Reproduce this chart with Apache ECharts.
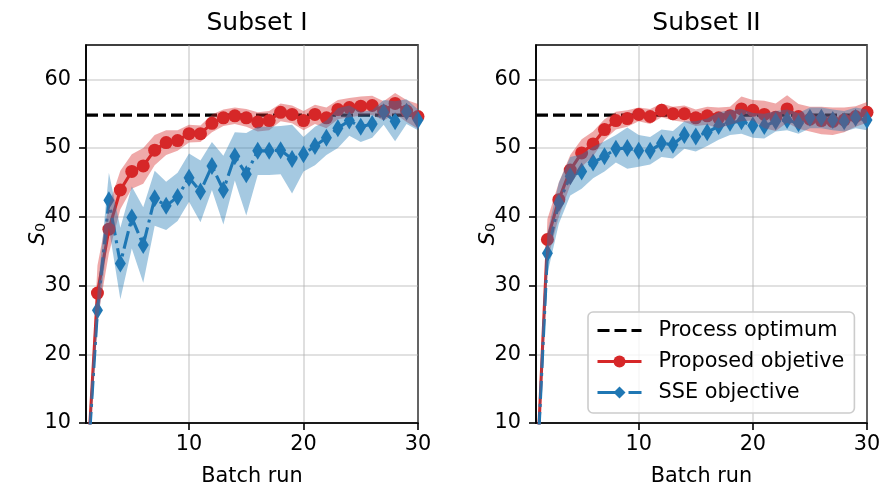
<!DOCTYPE html>
<html>
<head>
<meta charset="utf-8">
<script src="https://cdn.jsdelivr.net/npm/echarts@6/dist/echarts.min.js"></script>
<style>html,body{margin:0;padding:0;background:#fff;}#c{width:883px;height:489px;}</style>
</head>
<body>
<div id="c"></div>
<script>
// ---- data ----
const batch = [1,2,3,4,5,6,7,8,9,10,11,12,13,14,15,16,17,18,19,20,21,22,23,24,25,26,27,28,29,30];
const processOptimum = 54.8;

const s1Proposed   = [0,28.9,38.2,43.9,46.6,47.4,49.7,50.8,51.1,52.1,52.1,53.6,54.4,54.7,54.4,53.8,54.0,55.2,54.9,54.0,54.9,54.4,55.6,55.9,56.1,56.2,55.4,56.5,55.4,54.6];
const s1ProposedSd = [0,4.0,3.5,2.8,2.5,2.6,2.2,1.8,1.5,1.3,1.2,1.3,1.2,1.2,1.3,1.4,1.4,1.3,1.3,1.4,1.4,1.5,1.4,1.4,1.4,1.4,1.4,1.5,1.6,1.8];
const s1Sse        = [0,26.4,42.4,33.2,39.9,35.9,42.7,41.6,42.9,45.7,43.7,47.4,43.9,48.8,46.2,49.6,49.6,49.7,48.4,49.1,50.3,51.5,52.9,54.0,53.1,53.5,55.2,53.9,55.3,54.1];
const s1SseSd      = [0,2.5,4.0,5.2,4.5,5.5,4.0,3.5,3.5,3.5,4.5,3.5,5.0,3.5,6.0,3.5,3.5,3.5,5.0,2.5,2.8,2.5,2.9,2.2,2.2,2.0,1.8,2.9,1.8,1.5];

const s2Proposed   = [0,36.7,42.5,46.8,49.3,50.6,52.7,54.0,54.3,54.9,54.6,55.5,55.0,55.0,54.4,54.7,54.4,54.7,55.7,55.5,54.9,54.5,55.7,54.6,54.2,54.0,53.9,54.1,54.6,55.2];
const s2ProposedSd = [0,3.0,2.5,2.2,2.0,1.8,1.5,1.3,1.2,1.0,1.1,1.0,1.0,1.2,1.2,1.3,1.5,1.3,1.8,1.5,2.0,2.0,2.0,1.8,1.8,2.0,2.0,1.8,1.5,1.5];
const s2Sse        = [0,34.7,42.0,45.9,46.6,47.9,48.8,49.9,50.0,49.6,49.6,50.7,50.5,51.9,51.7,52.3,53.2,53.7,53.9,53.3,53.2,53.9,54.1,53.6,54.4,54.4,54.1,53.9,54.4,54.1];
const s2SseSd      = [0,3.0,3.0,2.8,2.5,2.3,2.2,2.0,3.0,2.3,2.0,2.0,2.0,2.0,2.2,2.0,2.0,1.8,1.8,1.8,1.8,1.5,1.5,1.5,1.5,1.5,1.5,1.5,1.5,1.5];

const xTicks = [10,20,30];
const yTicks = [10,20,30,40,50,60];
const titles = ['Subset I','Subset II'];
const seriesNames = ['Process optimum','Proposed objetive','SSE objective'];

// ---- styles ----
const FONT = 'DejaVu Sans';
const FS = 20.8;
const RED = '#d62728', BLUE = '#1f77b4';
const RED_BAND = 'rgba(214,39,40,0.4)', BLUE_BAND = 'rgba(31,119,180,0.4)';
const grids = [
  {left: 86, top: 45, width: 332, height: 378},
  {left: 536, top: 45, width: 331, height: 378}
];

function pairs(ys){ return batch.map((x,i)=>[x, ys[i]]); }
function bandData(ys, sd){ return batch.map((x,i)=>[x, ys[i]-sd[i], ys[i]+sd[i]]); }

function bandSeries(gi, ys, sd, fill){
  const data = bandData(ys, sd);
  return {
    type: 'custom', xAxisIndex: gi, yAxisIndex: gi, silent: true, clip: true, z: 3,
    data: data,
    encode: {x: 0, y: [1,2]},
    renderItem: function(params, api){
      if (params.dataIndex !== 0) return null;
      const pts = [];
      for (let i = 0; i < data.length; i++) pts.push(api.coord([data[i][0], data[i][2]]));
      for (let i = data.length - 1; i >= 0; i--) pts.push(api.coord([data[i][0], data[i][1]]));
      return {type: 'polygon', shape: {points: pts}, style: {fill: fill, stroke: null}};
    }
  };
}

const xAxes = [], yAxes = [], series = [], titleCmp = [];
const sets = [
  [s1Proposed, s1ProposedSd, s1Sse, s1SseSd],
  [s2Proposed, s2ProposedSd, s2Sse, s2SseSd]
];
for (let gi = 0; gi < 2; gi++){
  const g = grids[gi];
  titleCmp.push({
    text: titles[gi], left: g.left + g.width/2, top: 6, textAlign: 'center',
    textStyle: {fontFamily: FONT, fontSize: 25, fontWeight: 'normal', color: '#000'}
  });
  xAxes.push({
    type: 'value', gridIndex: gi, min: 1, max: 30,
    name: 'Batch run', nameLocation: 'middle', nameGap: 43, nameMoveOverlap: false,
    nameTextStyle: {fontFamily: FONT, fontSize: FS, color: '#000'},
    axisLine: {show: true, onZero: false, lineStyle: {color: '#000', width: 1.6}},
    axisTick: {show: true, length: 7, lineStyle: {color: '#000', width: 1.6}, customValues: xTicks},
    axisLabel: {fontFamily: FONT, fontSize: FS, color: '#000', margin: 11, customValues: xTicks},
    splitLine: {show: true, lineStyle: {color: '#b0b0b0', opacity: 0.5, width: 1.6}}
  });
  yAxes.push({
    type: 'value', gridIndex: gi, min: 10, max: 65,
    name: '{s|S}{sub|0}', nameLocation: 'middle', nameGap: 37, nameRotate: 90, nameMoveOverlap: false,
    nameTextStyle: {fontFamily: FONT, fontSize: FS, color: '#000',
      rich: {s: {fontFamily: FONT, fontSize: FS, fontStyle: 'italic', color: '#000'},
             sub: {fontFamily: FONT, fontSize: 14.5, color: '#000', verticalAlign: 'bottom', padding: [6,0,0,0]}}},
    axisLine: {show: true, onZero: false, lineStyle: {color: '#000', width: 1.6}},
    axisTick: {show: true, length: 7, lineStyle: {color: '#000', width: 1.6}, customValues: yTicks},
    axisLabel: {fontFamily: FONT, fontSize: FS, color: '#000', margin: 15, customValues: yTicks},
    splitLine: {show: true, lineStyle: {color: '#b0b0b0', opacity: 0.5, width: 1.6}}
  });
  const [pr, prSd, ss, ssSd] = sets[gi];
  series.push({
    name: seriesNames[0], type: 'line', xAxisIndex: gi, yAxisIndex: gi, z: 2,
    data: [[batch[0], processOptimum], [batch[batch.length-1], processOptimum]],
    symbol: 'none', color: '#000', lineStyle: {color: '#000', width: 3.1, type: [12, 5]}, silent: true
  });
  series.push({
    name: seriesNames[1], type: 'line', xAxisIndex: gi, yAxisIndex: gi, z: 2,
    data: pairs(pr), symbol: 'circle', symbolSize: 13, color: RED,
    itemStyle: {color: RED}, lineStyle: {color: RED, width: 3.1}
  });
  series.push({
    name: seriesNames[2], type: 'line', xAxisIndex: gi, yAxisIndex: gi, z: 2,
    data: pairs(ss), symbol: 'diamond', symbolSize: [11, 18], color: BLUE,
    itemStyle: {color: BLUE}, lineStyle: {color: BLUE, width: 3.1, type: [18, 5, 3, 5]}
  });
  series.push(bandSeries(gi, pr, prSd, RED_BAND));
  series.push(bandSeries(gi, ss, ssSd, BLUE_BAND));
}

const chart = echarts.init(document.getElementById('c'), null, {renderer: 'canvas'});
chart.setOption({
  animation: false,
  backgroundColor: '#fff',
  title: titleCmp,
  grid: grids.map(g => Object.assign({show: true, borderColor: '#000', borderWidth: 1.6, backgroundColor: 'transparent', containLabel: false, outerBoundsMode: 'none'}, g)),
  xAxis: xAxes,
  yAxis: yAxes,
  legend: {
    data: [
      {name: seriesNames[0], itemStyle: {color: 'rgba(0,0,0,0)', borderWidth: 0}},
      {name: seriesNames[1]},
      {name: seriesNames[2]}
    ],
    orient: 'vertical', left: 588, top: 312,
    itemWidth: 44, itemHeight: 15, itemGap: 10,
    padding: [8, 10, 10, 8],
    lineStyle: {width: 3},
    backgroundColor: 'rgba(255,255,255,0.8)', borderColor: '#cccccc', borderWidth: 1.6, borderRadius: 5,
    textStyle: {fontFamily: FONT, fontSize: FS, color: '#000', padding: [0, 0, 0, 12]},
    selectedMode: false
  },
  series: series
});
</script>
</body>
</html>
